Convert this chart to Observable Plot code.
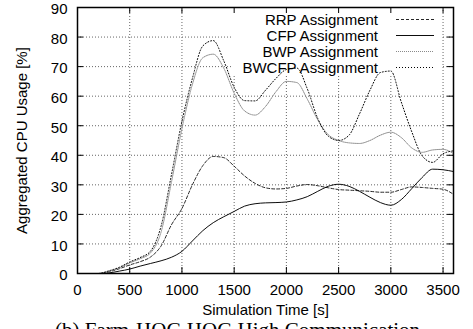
<!DOCTYPE html>
<html>
<head>
<meta charset="utf-8">
<script src="https://cdn.jsdelivr.net/npm/d3@7"></script>
<script src="https://cdn.jsdelivr.net/npm/@observablehq/plot@0.6"></script>
<style>
  html, body { margin: 0; padding: 0; background: #fff; }
  #chart { width: 473px; height: 329px; overflow: hidden; }
</style>
</head>
<body>
<div id="chart"></div>
<script>
// ---- data ----
const time  = [0,100,200,300,400,500,600,700,800,900,1000,1100,1200,1300,1400,1500,1600,1700,1800,1900,2000,2100,2200,2300,2400,2500,2600,2700,2800,2900,3000,3100,3200,3300,3400,3500,3600];
const rrp   = [0,0,0,0.6,1.6,2.9,4.0,5.6,9.3,16.5,22,30,36.5,39.6,39.2,36.3,33,30.5,29,28.6,28.8,29.6,30.1,29.7,29,28.4,28.2,28,27.8,27.5,27.5,28.4,29.3,29.1,28.8,28.5,26.8];
const cfp   = [0,0,0,0.2,0.8,1.5,2.5,3.4,4.3,5.5,7.5,11,14.5,17.2,19.2,21,22.8,23.6,23.9,24,24.2,24.9,26,27.8,29.5,30.2,29.5,27.8,25.8,24,23.1,25,28.7,32.5,35.3,35.1,34.5];
const bwp   = [0,0,0,0.8,1.9,3.6,5.0,7.0,14,31,49,64,73,74.2,69.5,61,55,53.6,56.5,61.5,65,64.6,59,52,47,45,44.2,44,45,46.8,47.8,46,42.5,41,41.8,42,40.6];
const bwcfp = [0,0,0,0.9,2.1,3.9,5.4,7.6,16,33.5,51.5,66,77,78.8,72,63,58.5,58.4,62,66,69,69.5,62.5,52.5,46.5,45,46.8,54,62,68,68.5,58,48,39.8,37.6,40.5,41.5];
const seriesNames = ["RRP Assignment", "CFP Assignment", "BWP Assignment", "BWCFP Assignment"];
const xTicks = [0,500,1000,1500,2000,2500,3000,3500];
const yTicks = [0,10,20,30,40,50,60,70,80,90];

const styles = [
  {stroke: "#000", strokeWidth: 0.85, strokeDasharray: "3,2"},
  {stroke: "#000", strokeWidth: 0.95, strokeDasharray: null},
  {stroke: "#8a8a8a", strokeWidth: 1, strokeDasharray: "1,1"},
  {stroke: "#000", strokeWidth: 1, strokeDasharray: "1,2"}
];
const seriesValues = [rrp, cfp, bwp, bwcfp];

const W = 473, H = 329, mL = 77, mR = 20, mT = 7, mB = 56;
const frameW = W - mL - mR, frameH = H - mT - mB;

const lineMarks = seriesValues.map((vals, k) =>
  Plot.line(time.map((t, i) => ({t, v: vals[i]})), {
    x: "t", y: "v", curve: "monotone-x",
    stroke: styles[k].stroke, strokeWidth: styles[k].strokeWidth,
    strokeDasharray: styles[k].strokeDasharray
  })
);

const plot = Plot.plot({
  width: W, height: H,
  marginLeft: mL, marginRight: mR, marginTop: mT, marginBottom: mB,
  style: {fontFamily: "'Liberation Sans', Arial, sans-serif", fontSize: "15px", background: "#fff", color: "#000"},
  x: {domain: [0, 3600]},
  y: {domain: [0, 90]},
  marks: [
    Plot.gridX(xTicks, {stroke: "#666", strokeOpacity: 1, strokeDasharray: "1,2"}),
    Plot.gridY(yTicks, {stroke: "#666", strokeOpacity: 1, strokeDasharray: "1,2"}),
    ...lineMarks,
    Plot.frame({stroke: "#000", strokeWidth: 1.5}),
    Plot.tickX(xTicks, {x: d => d, insetTop: frameH - 6, stroke: "#000"}),
    Plot.tickX(xTicks, {x: d => d, insetBottom: frameH - 6, stroke: "#000"}),
    Plot.tickY(yTicks, {y: d => d, insetRight: frameW - 6, stroke: "#000"}),
    Plot.tickY(yTicks, {y: d => d, insetLeft: frameW - 6, stroke: "#000"}),
    Plot.axisX(xTicks, {tickSize: 0, tickPadding: 11, label: null, fontSize: 15, tickFormat: d => String(d)}),
    Plot.axisY(yTicks, {tickSize: 0, tickPadding: 10, dy: 2, label: null, fontSize: 15, tickFormat: d => String(d)}),
    Plot.text(["Simulation Time [s]"], {frameAnchor: "bottom", dy: 37, lineAnchor: "middle", textAnchor: "middle", fontSize: 15}),
    Plot.text(["Aggregated CPU Usage [%]"], {frameAnchor: "left", dx: -55, rotate: -90, lineAnchor: "middle", textAnchor: "middle", fontSize: 15})
  ]
});

document.getElementById("chart").appendChild(plot);

// ---- legend (key) with opaque background behind the curves ----
const svg = d3.select(plot);
const firstLine = plot.querySelector('g[aria-label="line"]');
const bg = document.createElementNS("http://www.w3.org/2000/svg", "rect");
bg.setAttribute("x", 233); bg.setAttribute("y", 8);
bg.setAttribute("width", 209); bg.setAttribute("height", 68);
bg.setAttribute("fill", "#fff");
firstLine.parentNode.insertBefore(bg, firstLine);

const key = svg.append("g").attr("font-family", "'Liberation Sans', Arial, sans-serif").attr("font-size", 15);
seriesNames.forEach((name, k) => {
  const base = 25 + k * 16;
  key.append("text").attr("x", 378).attr("y", base).attr("text-anchor", "end").attr("fill", "#000").text(name);
  key.append("line").attr("x1", 396).attr("x2", 434).attr("y1", base - 5.5).attr("y2", base - 5.5)
    .attr("stroke", styles[k].stroke).attr("stroke-width", styles[k].strokeWidth)
    .attr("stroke-dasharray", styles[k].strokeDasharray);
});

// ---- caption (cut off at the bottom like the reference) ----
svg.append("text").attr("x", 55).attr("y", 337).attr("text-anchor", "start")
  .attr("font-family", "'Liberation Serif', 'Times New Roman', serif").attr("font-size", 21)
  .attr("fill", "#000").text("(b) Farm-HOG HOG High Communication");
</script>
</body>
</html>
